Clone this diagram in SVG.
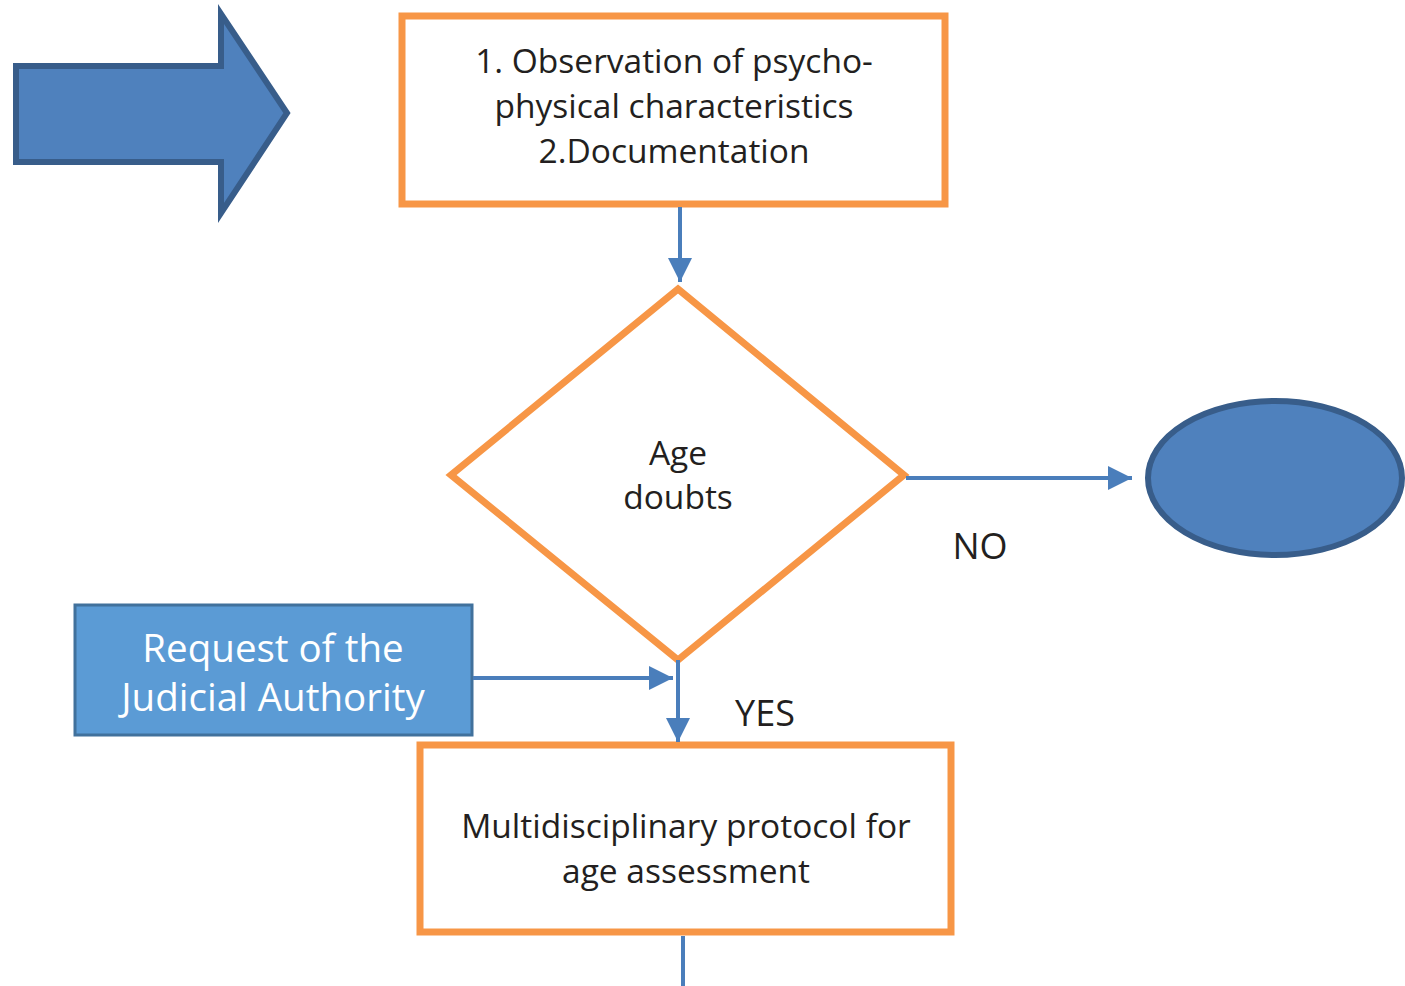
<svg xmlns="http://www.w3.org/2000/svg" width="1405" height="986" viewBox="0 0 1405 986">
  <style>
    .box { fill: #ffffff; stroke: #F79646; stroke-width: 7; }
    .lbl { font-family: "Open Sans", "Liberation Sans", sans-serif; font-size: 33.5px; fill: #231f20; text-anchor: middle; }
    .tag { font-family: "Open Sans", "Liberation Sans", sans-serif; font-size: 36px; fill: #231f20; text-anchor: middle; }
    .wlbl { font-family: "Open Sans", "Liberation Sans", sans-serif; font-size: 38.5px; fill: #ffffff; text-anchor: middle; }
    .edge { stroke: #4A7EBB; stroke-width: 4; fill: none; }
    .shape { fill: #4F81BD; stroke: #385D8A; stroke-width: 6; }
  </style>
  <defs>
    <marker id="head" markerWidth="7" markerHeight="7" refX="6" refY="3.5" orient="auto" markerUnits="strokeWidth">
      <path d="M0,0.5 L6,3.5 L0,6.5 Z" fill="#4A7EBB"/>
    </marker>
  </defs>

  <g id="entry-arrow">
    <path class="shape" d="M16,66 H221 V14 L287,113 L221,213 V162 H16 Z"/>
  </g>

  <g id="observation">
    <rect class="box" x="402" y="16" width="543" height="188"/>
    <text class="lbl" x="674" y="73">1. Observation of psycho-</text>
    <text class="lbl" x="674" y="118">physical characteristics</text>
    <text class="lbl" x="674" y="163">2.Documentation</text>
  </g>

  <g id="age-doubts">
    <polygon class="box" points="678,289 904,475 678,660 451,475"/>
    <text class="lbl" x="678" y="465">Age</text>
    <text class="lbl" x="678" y="509">doubts</text>
  </g>

  <g id="end-node">
    <ellipse class="shape" cx="1275" cy="478" rx="127" ry="77"/>
  </g>

  <g id="judicial-request">
    <rect x="75" y="605" width="397" height="130" fill="#5B9BD5" stroke="#41719C" stroke-width="3"/>
    <text class="wlbl" x="273" y="662">Request of the</text>
    <text class="wlbl" x="273" y="711">Judicial Authority</text>
  </g>

  <g id="protocol">
    <rect class="box" x="420" y="745" width="531" height="187"/>
    <text class="lbl" x="686" y="838">Multidisciplinary protocol for</text>
    <text class="lbl" x="686" y="883">age assessment</text>
  </g>

  <g id="connectors">
    <line class="edge" x1="680" y1="207" x2="680" y2="282" marker-end="url(#head)"/>
    <line class="edge" x1="906" y1="478" x2="1132" y2="478" marker-end="url(#head)"/>
    <line class="edge" x1="473" y1="678" x2="673" y2="678" marker-end="url(#head)"/>
    <line class="edge" x1="678" y1="660" x2="678" y2="742" marker-end="url(#head)"/>
    <line class="edge" x1="683" y1="936" x2="683" y2="986"/>
    <text class="tag" x="980" y="559">NO</text>
    <text class="tag" x="765" y="726">YES</text>
  </g>
</svg>
